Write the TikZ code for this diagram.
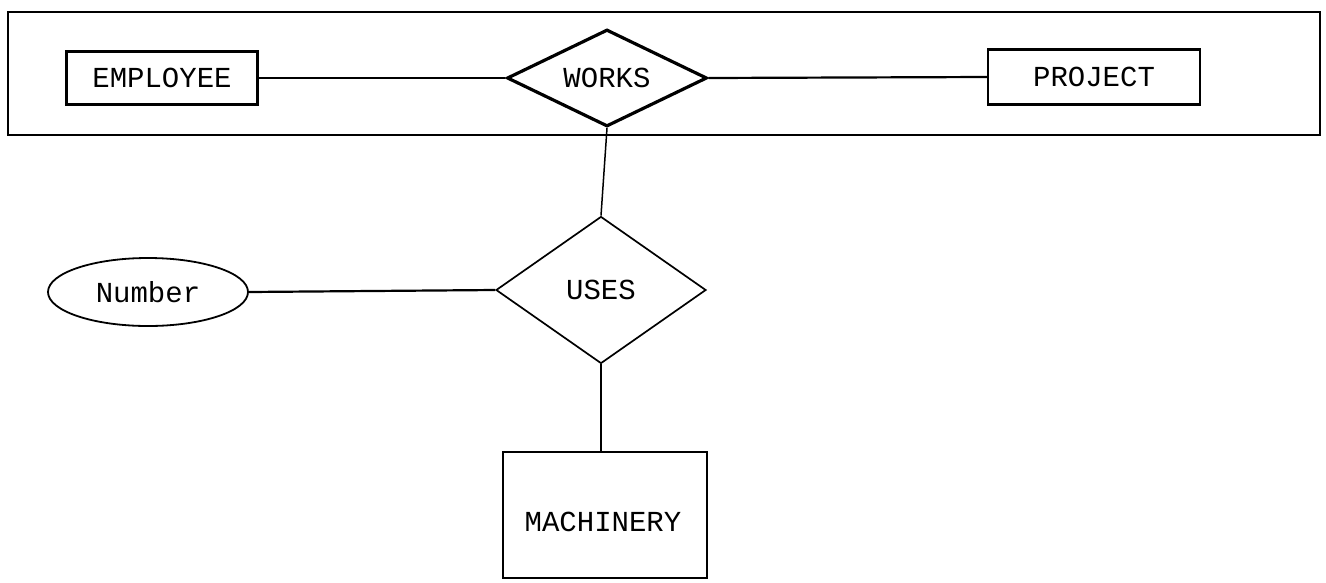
\documentclass[tikz,border=0pt]{standalone}
\usepackage{fontspec}
\setmonofont{Liberation Mono}
\usetikzlibrary{shapes.geometric}
\begin{document}
\begin{tikzpicture}[x=1pt,y=-1pt,
  every node/.style={font=\ttfamily\fontsize{29}{29}\selectfont, inner sep=0pt},
  entity/.style={draw, line width=2.4pt, rectangle},
  rel/.style={draw, diamond, aspect=2},
  attr/.style={draw, ellipse, line width=1.8pt},
  link/.style={line width=2.2pt},
  thin link/.style={line width=1.5pt}]
\useasboundingbox (0,0) rectangle (1326,582);
\node[draw, line width=2.2pt, minimum width=1312pt, minimum height=123pt] (agg) at (664,73.5) {};
\node[entity, minimum width=191pt, minimum height=53pt] (emp) at (162,78) {EMPLOYEE};
\node[rel, line width=3.2pt, minimum width=200pt, minimum height=97pt] (works) at (607,78) {WORKS};
\node[entity, minimum width=212pt, minimum height=55pt] (proj) at (1094,77) {PROJECT};
\node[rel, line width=1.7pt, minimum width=210pt, minimum height=147pt] (uses) at (601,290) {USES};
\node[attr, minimum width=200pt, minimum height=68pt] (num) at (148,292) {Number};
\node[entity, line width=2.2pt, minimum width=204pt, minimum height=126pt] (mach) at (605,515) {};
\node (machtext) at (603,522) {MACHINERY};
\draw[link] (emp.east) -- (works.west);
\draw[link] (works.east) -- (proj.west);
\draw[thin link] (works.south) -- (uses.north);
\draw[link] (num.east) -- (uses.west);
\draw[thin link] (uses.south) -- (uses.south |- mach.north);
\end{tikzpicture}
\end{document}
